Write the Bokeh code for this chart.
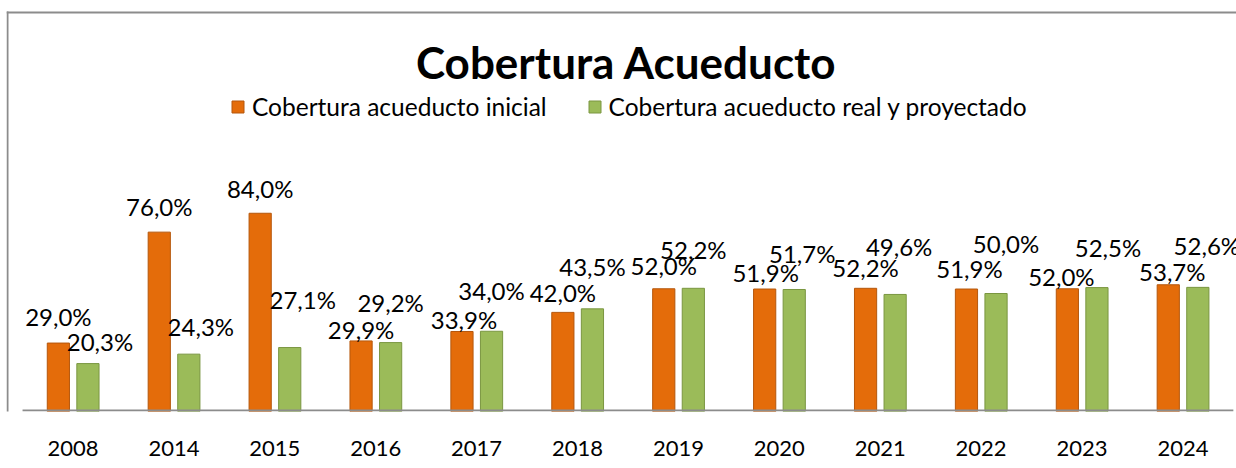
from bokeh.plotting import figure
from bokeh.models import (ColumnDataSource, Range1d, Legend, LegendItem, Label,
                          BoxAnnotation, FixedTicker)
from bokeh.transform import dodge
from bokeh.core.properties import value
from bokeh.embed import file_html
from bokeh.resources import INLINE

# ---- data ----
years = ["2008", "2014", "2015", "2016", "2017", "2018",
         "2019", "2020", "2021", "2022", "2023", "2024"]
inicial = [29.0, 76.0, 84.0, 29.9, 33.9, 42.0, 52.0, 51.9, 52.2, 51.9, 52.0, 53.7]
real_proy = [20.3, 24.3, 27.1, 29.2, 34.0, 43.5, 52.2, 51.7, 49.6, 50.0, 52.5, 52.6]
series_names = ["Cobertura acueducto inicial", "Cobertura acueducto real y proyectado"]
title_text = "Cobertura Acueducto"

# label nudges (pixels) as placed in the original chart
ini_dx = [0, 0, 0, 0, 2, 0, 0, 1, 0, 3, -6, 4]
ini_rise = [27, 26, 25, 11, 12, 20, 23, 17, 21, 21, 12, 13]
real_dx = [12, 12, 13, 0, 0, 0, 0, 8, 4, 10, 11, 9]
real_rise = [22, 28, 48, 40, 41, 42, 39, 36, 48, 50, 40, 42]

ORANGE = "#E46C0A"
ORANGE_EDGE = "#B5570C"
GREEN = "#9BBB59"
GREEN_EDGE = "#7A9640"
FRAME_GRAY = "#8C8C8C"
FONT = "Lato"


def fmt(v):
    return f"{v:.1f}".replace(".", ",") + "%"


n = len(years)
src = ColumnDataSource(dict(
    xi=list(range(n)), year=years, ini=inicial, real=real_proy,
    ini_lbl=[fmt(v) for v in inicial], real_lbl=[fmt(v) for v in real_proy],
    ini_dx=ini_dx, ini_dy=[-r for r in ini_rise],
    real_dx=real_dx, real_dy=[-r for r in real_rise],
))

W, H = 1236, 462
FRAME_BOTTOM = 411        # px from page top
FRAME_LEFT = 6            # px from page left
CAT_W = 100.9             # px per category
FIRST_CENTER = 72.5       # px of first category centre
x_start = (FRAME_LEFT - FIRST_CENTER) / CAT_W
x_end = (W - FIRST_CENTER) / CAT_W

p = figure(x_range=Range1d(x_start, x_end),
           y_range=Range1d(0, FRAME_BOTTOM / 2.36),
           width=W, height=H, output_backend="svg", toolbar_location=None,
           title=None, y_axis_location=None,
           min_border_left=FRAME_LEFT, min_border_right=0, min_border_top=0,
           min_border_bottom=H - FRAME_BOTTOM)
p.outline_line_color = None
p.xgrid.grid_line_color = None
p.ygrid.grid_line_color = None
p.background_fill_color = "white"
p.border_fill_color = "white"

# chart-area border (top and left edges), screen px relative to the frame
p.add_layout(BoxAnnotation(left=0, right=2, top=400, bottom=-80,
                           left_units="screen", right_units="screen",
                           top_units="screen", bottom_units="screen",
                           fill_color=FRAME_GRAY, fill_alpha=1, line_alpha=0))
p.add_layout(BoxAnnotation(left=0, right=1400, top=400, bottom=398,
                           left_units="screen", right_units="screen",
                           top_units="screen", bottom_units="screen",
                           fill_color=FRAME_GRAY, fill_alpha=1, line_alpha=0))
# category baseline spanning the category cells
p.add_layout(BoxAnnotation(left=-0.5, right=n - 0.5, top=2, bottom=0,
                           top_units="screen", bottom_units="screen",
                           fill_color=FRAME_GRAY, fill_alpha=1, line_alpha=0))

r1 = p.vbar(x=dodge("xi", -0.145), top="ini", width=0.22,
            source=src, fill_color=ORANGE, line_color=ORANGE_EDGE, line_width=1)
r2 = p.vbar(x=dodge("xi", 0.148), top="real", width=0.22,
            source=src, fill_color=GREEN, line_color=GREEN_EDGE, line_width=1)

p.text(x=dodge("xi", -0.145), y="ini", text="ini_lbl",
       x_offset="ini_dx", y_offset="ini_dy", source=src,
       text_font=value(FONT), text_font_size="24px", text_color="black",
       text_align="center", text_baseline="middle")
p.text(x=dodge("xi", 0.148), y="real", text="real_lbl",
       x_offset="real_dx", y_offset="real_dy", source=src,
       text_font=value(FONT), text_font_size="24px", text_color="black",
       text_align="center", text_baseline="middle")

ax = p.xaxis[0]
ax.ticker = FixedTicker(ticks=list(range(n)))
ax.major_label_overrides = {i: y for i, y in enumerate(years)}
ax.axis_line_color = None
ax.major_tick_line_color = None
ax.minor_tick_line_color = None
ax.major_tick_out = 0
ax.major_tick_in = 0
ax.major_label_standoff = 29
ax.major_label_text_font = FONT
ax.major_label_text_font_size = "22px"
ax.major_label_text_color = "black"

p.add_layout(Label(x=620, y=350, x_units="screen", y_units="screen",
                   text=title_text, text_font=FONT, text_font_size="44px",
                   text_font_style="bold", text_color="black",
                   text_align="center", text_baseline="alphabetic"))

legend = Legend(items=[LegendItem(label=series_names[0], renderers=[r1]),
                       LegendItem(label=series_names[1], renderers=[r2])],
                orientation="horizontal", location=(224, 290),
                glyph_width=15, glyph_height=15, label_standoff=7, spacing=40,
                padding=0, margin=0, border_line_color=None,
                background_fill_alpha=0, label_text_font=FONT,
                label_text_font_size="24.5px", label_text_color="black")
p.add_layout(legend, "center")

open("out.html", "w").write(file_html(p, INLINE))
